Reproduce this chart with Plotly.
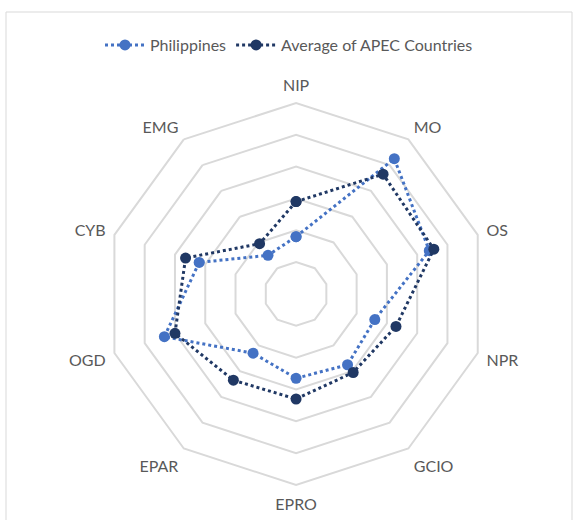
import plotly.graph_objects as go

categories = ['NIP', 'MO', 'OS', 'NPR', 'GCIO', 'EPRO', 'EPAR', 'OGD', 'CYB', 'EMG']
philippines = [1.8, 5.25, 4.4, 2.6, 2.75, 2.65, 2.3, 4.35, 3.2, 1.5]
apec_average = [2.9, 4.65, 4.55, 3.3, 3.05, 3.3, 3.35, 4.0, 3.65, 1.95]

grey_text = '#595959'
grid = '#D9D9D9'

fig = go.Figure()

# close the loops by repeating the first point
fig.add_trace(go.Scatterpolar(
    r=philippines + philippines[:1], theta=categories + categories[:1],
    name='Philippines', mode='lines+markers',
    line=dict(color='#4472C4', width=3, dash='dot'),
    marker=dict(color='#4472C4', size=11),
))
fig.add_trace(go.Scatterpolar(
    r=apec_average + apec_average[:1], theta=categories + categories[:1],
    name='Average of APEC Countries', mode='lines+markers',
    line=dict(color='#203864', width=3, dash='dot'),
    marker=dict(color='#203864', size=11),
))

fig.update_layout(
    width=579, height=520,
    margin=dict(l=6, r=7, t=12, b=0),
    paper_bgcolor='white', plot_bgcolor='white',
    font=dict(family='Lato, Open Sans, sans-serif', size=16, color=grey_text),
    polar=dict(
        domain=dict(x=[0.175, 0.85], y=[0.069, 0.821]),
        gridshape='linear',
        bgcolor='white',
        radialaxis=dict(range=[0, 6], dtick=1, showticklabels=False, ticks='',
                        showline=False, gridcolor=grid, gridwidth=2),
        # invisible ticks just push the category labels a little further out
        angularaxis=dict(direction='clockwise', rotation=90, showgrid=False,
                         ticks='outside', ticklen=5, tickcolor='rgba(0,0,0,0)',
                         linecolor=grid, linewidth=2,
                         tickfont=dict(size=16, color=grey_text)),
    ),
    legend=dict(orientation='h', x=0.5, xanchor='center', y=0.935, yanchor='middle',
                font=dict(size=16, color=grey_text), bgcolor='rgba(0,0,0,0)',
                itemwidth=40),
    shapes=[dict(type='rect', xref='paper', yref='paper', x0=0, x1=1, y0=-0.02, y1=1,
                 line=dict(color='#D9D9D9', width=1))],
)

# drop the page's default body margin so the figure sits at the window origin
fig.write_html('out.html', config={'displayModeBar': False},
               post_script="document.body.style.margin='0';")
